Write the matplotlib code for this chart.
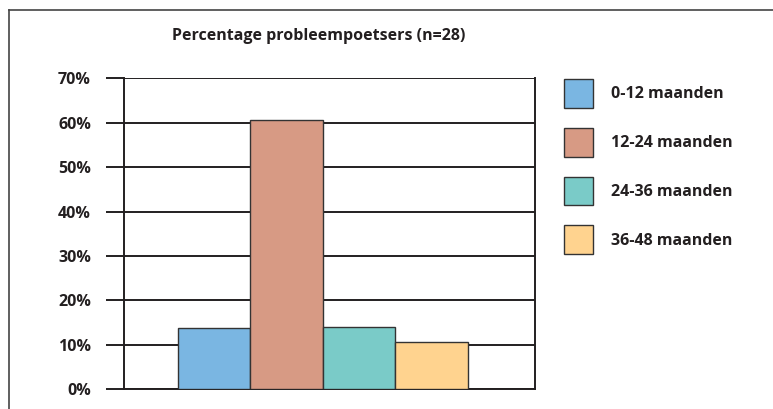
import matplotlib
matplotlib.use('Agg')
import matplotlib.pyplot as plt
from matplotlib.lines import Line2D

plt.rcParams['font.family'] = ['Open Sans', 'DejaVu Sans']
plt.rcParams['font.weight'] = 'bold'

title = 'Percentage probleempoetsers (n=28)'
categories = ['0-12 maanden', '12-24 maanden', '24-36 maanden', '36-48 maanden']
values = [13.7, 60.6, 14.0, 10.7]
colors = ['#7ab6e2', '#d79a84', '#7acbc8', '#ffd38f']
yticks = [0, 10, 20, 30, 40, 50, 60, 70]

ink = '#231f20'
fs = 11.5

fig = plt.figure(figsize=(7.73, 4.09), dpi=100)
ax = fig.add_axes([124.3 / 773, 1 - 389.3 / 409, (535 - 124.3) / 773, (389.3 - 78.3) / 409])

x = range(len(categories))
bars = ax.bar(x, values, width=1.0, color=colors, edgecolor='#333333', linewidth=1.0,
              label=categories, zorder=3)

ax.set_xlim(-1.237, 4.43)
ax.set_ylim(0, 70)
ax.set_yticks(yticks)
ax.set_yticklabels([f'{t}%' for t in yticks], fontsize=fs, color=ink)
ax.set_xticks([])
ax.yaxis.grid(True, color=ink, linewidth=1.4)
ax.set_axisbelow(True)
ax.tick_params(axis='y', direction='out', length=13, width=1.4, color=ink, pad=11)

for side in ['left', 'right', 'bottom']:
    ax.spines[side].set_color(ink)
    ax.spines[side].set_linewidth(1.4)
ax.spines['top'].set_visible(False)

fig.text(319 / 773, 1 - 36 / 409, title, ha='center', va='center', fontsize=fs, color=ink)

# legend squares ~29px, rows 49px apart
leg = ax.legend(handles=bars.patches, labels=categories, loc='upper left',
                bbox_to_anchor=(564 / 773, 1 - 79 / 409), bbox_transform=fig.transFigure,
                frameon=False, fontsize=fs, handlelength=1.82, handleheight=2.4,
                labelspacing=1.25, handletextpad=1.1, borderpad=0, borderaxespad=0)
for t in leg.get_texts():
    t.set_color(ink)

# outer frame (cut off at right and bottom)
fig.add_artist(Line2D([8.5 / 773, 8.5 / 773], [0, 1 - 10 / 409], color='#444444', linewidth=1.2))
fig.add_artist(Line2D([8.5 / 773, 1], [1 - 10 / 409, 1 - 10 / 409], color='#444444', linewidth=1.2))

fig.savefig('out.png', dpi=100)
